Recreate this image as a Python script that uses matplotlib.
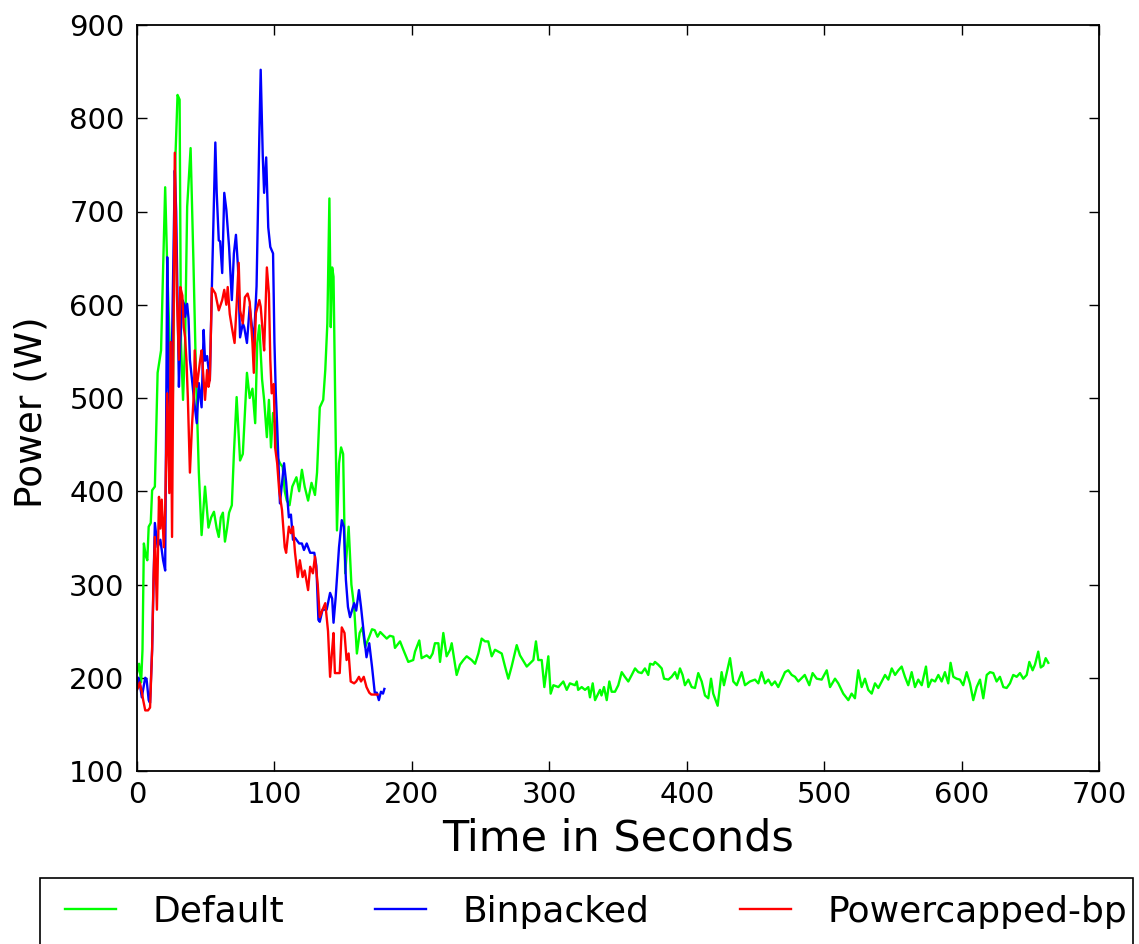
import matplotlib
matplotlib.use("Agg")
import matplotlib.pyplot as plt
from matplotlib.patches import Rectangle

# Power draw samples (seconds, watts) for each scheduling policy
default_samples = [
    (0, 205), (1.5, 215), (3, 195), (4, 230), (5, 344), (6.5, 330), (7.5, 326), (8.5, 362),
    (10, 366), (11, 401), (13, 405), (15, 527), (17.5, 551), (20.5, 726), (22, 640), (24, 548),
    (26, 490), (28, 760), (29.5, 825), (31, 820), (32, 560), (33.5, 498), (35, 560), (36.5, 705),
    (39, 768), (41, 650), (43, 520), (45, 420), (47, 353), (49.5, 405), (52, 361), (54, 372),
    (56, 378), (58, 360), (59.5, 351), (61, 372), (62.5, 377), (64, 346), (65.5, 360), (67, 377),
    (69, 385), (70.5, 440), (72.5, 501), (75, 433), (77, 440), (80, 527), (82, 500), (84, 510),
    (86, 473), (87.5, 559), (89, 578), (91, 520), (92.5, 498), (94.5, 458), (96, 498), (97.5, 447),
    (99, 484), (101, 470), (102, 437), (104, 430), (106, 426), (107.5, 400), (109, 390), (111, 385),
    (113, 405), (116, 415), (118, 400), (120, 423), (122, 405), (124.5, 390), (127, 409), (129.5, 396),
    (131, 420), (133, 490), (135.5, 498), (137, 530), (138.5, 580), (140, 714), (141, 576), (142, 640),
    (143, 630), (144, 520), (145.5, 358), (147, 430), (148.5, 447), (150, 440), (151.5, 312), (154, 362),
    (156, 300), (158, 276), (160, 226), (162, 248), (164, 254), (166, 233), (169, 244), (171, 252),
    (173, 251), (175, 244), (177, 249), (179, 246), (181.7, 242), (184, 245), (186.5, 244), (187.7, 232),
    (191.4, 239), (193.8, 230), (197.4, 217), (201, 219), (202.3, 228), (205.4, 240), (207.1, 221),
    (210.8, 224), (213.2, 221), (215.1, 226), (216.8, 237), (219.3, 237), (220.5, 217), (222.9, 248),
    (225.3, 223), (227.8, 230), (229, 237), (232.6, 203), (235, 214), (237.5, 219), (239.9, 223),
    (243.5, 219), (246, 215), (248.4, 226), (250.8, 242), (253.2, 239), (255.6, 239), (258.1, 223),
    (260.5, 230), (262.9, 228), (265.4, 226), (267.8, 212), (270.2, 199), (272.6, 212), (276.3, 235),
    (278.7, 224), (283.6, 212), (288.4, 219), (290.3, 239), (292, 219), (294.5, 219), (296.4, 190),
    (299.3, 223), (301, 183), (303, 192), (306.6, 190), (310.2, 196), (312.7, 187), (315, 194),
    (318.7, 192), (320, 196), (321, 187), (323.6, 190), (326, 187), (328.4, 190), (329.6, 179),
    (331.6, 194), (333.3, 176), (336.9, 187), (338, 181), (339.8, 190), (341.8, 176), (343.7, 196),
    (345.4, 185), (347.8, 185), (350.2, 192), (352.7, 206), (355, 201), (357.5, 196), (360, 203),
    (362.4, 210), (364.8, 206), (367.2, 205), (369.6, 210), (372, 203), (373.3, 215), (375.7, 214),
    (376.9, 217), (379.3, 214), (381.8, 210), (383.5, 199), (386.6, 198), (389, 201), (391.5, 206),
    (393.2, 199), (395.1, 210), (397, 203), (398.7, 192), (401.2, 198), (403.6, 190), (406, 189),
    (408.4, 205), (410.9, 196), (413.3, 181), (415.7, 178), (417.7, 199), (419.3, 183), (422.5, 170),
    (425.4, 206), (427.1, 192), (429.1, 205), (431.5, 221), (433.9, 196), (436.4, 192), (440, 206),
    (442.4, 192), (446, 196), (449.7, 198), (452.1, 194), (454.5, 206), (457, 194), (459.4, 198),
    (461.8, 192), (464.2, 196), (466.6, 190), (469.1, 198), (471.5, 206), (473.9, 208), (476.4, 203),
    (478.8, 201), (481.2, 196), (485.9, 203), (489.2, 192), (491.6, 205), (494.6, 199), (498.2, 198),
    (501.9, 208), (504.3, 190), (507.9, 199), (510.3, 194), (513.9, 183), (517.6, 176), (520, 183),
    (522.4, 178), (524.8, 208), (527.3, 190), (529.7, 199), (532.1, 187), (534.6, 183), (537, 194),
    (539.4, 189), (541.9, 196), (544.3, 203), (546.7, 198), (549.2, 210), (551.6, 203), (554, 208),
    (556.4, 212), (558.8, 201), (561.2, 192), (563.7, 206), (566.1, 190), (568.5, 198), (571, 192),
    (574.1, 212), (575.8, 190), (578.2, 198), (580.7, 196), (583.1, 203), (585.5, 196), (587.9, 206),
    (590.3, 194), (592, 216), (594, 201), (596.4, 199), (598.8, 198), (601.2, 192), (603.7, 206),
    (606.1, 194), (608.5, 176), (611, 190), (613.4, 198), (615.8, 178), (618.3, 203), (620.7, 206),
    (623.1, 205), (625.5, 196), (627.9, 201), (630.4, 190), (632.8, 189), (635.2, 194), (637.6, 203),
    (640.1, 201), (642.5, 205), (644.9, 199), (647.4, 203), (649.3, 217), (651.7, 208), (653.4, 214),
    (655.8, 228), (657.6, 211), (659.5, 213), (661.2, 221), (663.1, 216),
]

binpacked_samples = [
    (0, 190), (1, 200), (2, 194), (3.5, 179), (5, 192), (6, 200), (7, 198), (8.5, 176),
    (9.5, 173), (11, 230), (12, 300), (13, 366), (15, 340), (17, 348), (19, 326), (20.5, 315),
    (22, 651), (23, 516), (24, 470), (25.5, 560), (27.5, 744), (28.5, 700), (30.5, 512), (31.5, 560),
    (33, 605), (34.5, 600), (35, 587), (36.5, 601), (37.5, 585), (38.5, 541), (40, 520), (41.5, 498),
    (43.5, 473), (45, 516), (47, 490), (48.5, 573), (49.5, 540), (51, 545), (53, 519), (54.5, 620),
    (57, 774), (58, 720), (59.5, 669), (60.5, 668), (62, 634), (63.5, 720), (65, 702), (67, 662),
    (69, 605), (70.5, 655), (72, 675), (73.5, 640), (75, 565), (77, 580), (78, 576), (80, 559),
    (82, 598), (85, 559), (87, 620), (89, 780), (90, 852), (91.5, 760), (92.5, 720), (94, 758),
    (95.5, 683), (97, 662), (99, 655), (100, 560), (101, 505), (102, 470), (104, 387), (107, 430),
    (108.5, 410), (110.5, 372), (112, 375), (113.5, 348), (115, 350), (118, 344), (120, 344),
    (121.5, 337), (123.5, 344), (126, 334), (129, 334), (130.5, 320), (132, 262), (133, 260),
    (135, 273), (138, 273), (140.5, 291), (142, 285), (143, 259), (144.5, 285), (147, 340),
    (149, 369), (150.5, 362), (152, 305), (153.5, 276), (155, 265), (158, 280), (159.5, 272),
    (161.5, 294), (163, 276), (165, 248), (167, 222), (169, 237), (171, 212), (173, 184),
    (174.5, 184), (176, 176), (177.5, 185), (179, 183), (180, 188),
]

powercapped_samples = [
    (0, 187), (1, 190), (2, 195), (3.5, 185), (4.5, 176), (6, 165), (8, 165), (9.5, 168),
    (11, 230), (12, 305), (13, 351), (14.5, 273), (16, 394), (17, 360), (18, 391), (19.5, 340),
    (20.5, 380), (22, 505), (23.5, 398), (24.5, 560), (25.5, 351), (27.5, 763), (29, 612),
    (30.5, 541), (31.5, 619), (33, 610), (34, 576), (35, 565), (36, 540), (37, 500), (38.5, 420),
    (40, 470), (41.5, 508), (42, 551), (43.5, 512), (46, 541), (47, 551), (48.5, 519), (49.5, 498),
    (51, 530), (52, 512), (53, 520), (54.5, 618), (57, 612), (59.5, 594), (62, 605), (63.5, 616),
    (65, 600), (66, 619), (67.5, 590), (69, 576), (71, 559), (72.5, 600), (74, 645), (75, 594),
    (77, 580), (78.5, 608), (80.5, 612), (82, 603), (84, 559), (85, 527), (86.5, 591), (89, 605),
    (90, 598), (91.5, 570), (92.5, 551), (94.5, 640), (96, 612), (97, 541), (98, 505), (99.5, 515),
    (100.5, 447), (102, 430), (103.5, 400), (105.5, 380), (107.5, 340), (108.5, 334), (110.5, 362),
    (112, 355), (113.5, 362), (115, 334), (117, 308), (118.5, 326), (120.5, 308), (122, 315),
    (124.5, 294), (126, 319), (128, 312), (129.5, 330), (131.5, 300), (133, 265), (135, 273),
    (137, 280), (139, 250), (140.5, 201), (142, 230), (143, 248), (144, 205), (146, 205),
    (147.5, 205), (149, 254), (151, 248), (152.5, 219), (154, 226), (155.5, 196), (158, 194),
    (159.5, 196), (161.5, 201), (163, 196), (165, 201), (167, 190), (169, 184), (170.5, 182),
    (172.5, 182), (175, 182),
]

series_labels = ["Default", "Binpacked", "Powercapped-bp"]
series_colors = ["#00ff00", "#0000ff", "#ff0000"]
x_ticks = [0, 100, 200, 300, 400, 500, 600, 700]
y_ticks = [100, 200, 300, 400, 500, 600, 700, 800, 900]

plt.rcParams["font.family"] = "DejaVu Sans"

W, H = 1139, 944
fig = plt.figure(figsize=(W / 100, H / 100), dpi=100, facecolor="white")
ax = fig.add_axes([137 / W, 1 - 771 / H, (1099 - 137) / W, (771 - 25) / H])

for samples, label, color in zip(
    [default_samples, binpacked_samples, powercapped_samples], series_labels, series_colors
):
    t = [s[0] for s in samples]
    w = [s[1] for s in samples]
    ax.plot(t, w, color=color, lw=1.7, label=label)

ax.set_xlim(0, 700)
ax.set_ylim(100, 900)
ax.set_xticks(x_ticks)
ax.set_yticks(y_ticks)
ax.tick_params(direction="in", length=7, width=1, top=True, right=True, labelsize=21)
ax.tick_params(axis="x", pad=7)
ax.tick_params(axis="y", pad=9)
for sp in ax.spines.values():
    sp.set_linewidth(1.3)

ax.set_xlabel("Time in Seconds", fontsize=31, labelpad=6)
ax.set_ylabel("Power (W)", fontsize=27)
ax.yaxis.set_label_coords(-0.091, 0.481)

# Legend entries laid out below the axes; the frame is drawn as its own box
fs_leg = 26
pad_px = 11
leg = ax.legend(
    loc="upper left",
    bbox_to_anchor=((65 - pad_px) / W, -0.05, (1127 - 65 + 2 * pad_px) / W, 1 - 884 / H + 0.05),
    bbox_transform=fig.transFigure,
    mode="expand",
    ncol=3,
    fontsize=fs_leg,
    frameon=False,
    borderaxespad=0,
    borderpad=pad_px / (fs_leg * 100 / 72),
    handlelength=1.42,
    handletextpad=1.0,
)
for line in leg.get_lines():
    line.set_linewidth(1.7)

frame = Rectangle((40 / W, -0.02), (1133 - 40) / W, 1 - 878 / H + 0.02,
                  transform=fig.transFigure, fill=False, edgecolor="black",
                  linewidth=1.2, clip_on=False)
fig.add_artist(frame)

fig.savefig("out.png", dpi=100, facecolor="white")
